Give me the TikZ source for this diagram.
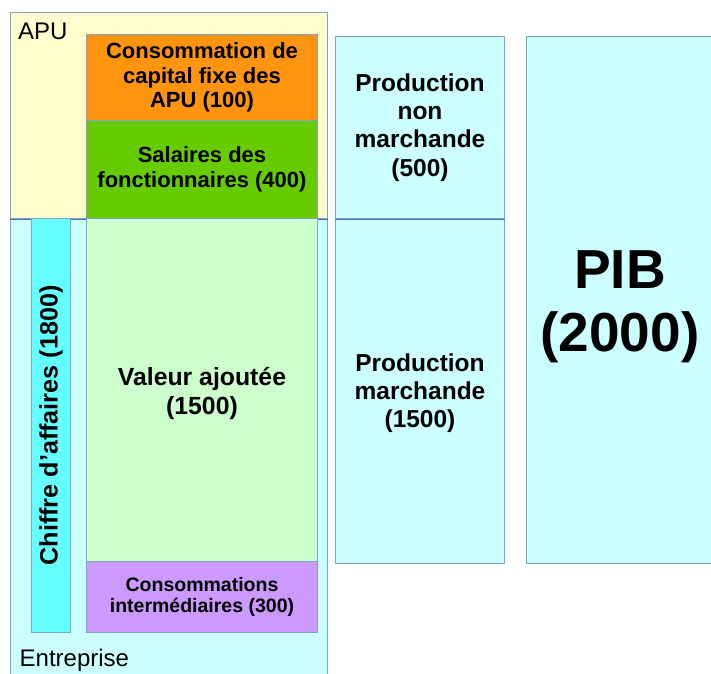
\documentclass[tikz,border=0pt]{standalone}
\usepackage{fontspec}
\setmainfont{Liberation Sans}
\definecolor{apufill}{HTML}{FFFDCD}
\definecolor{entfill}{HTML}{CCFFFF}
\definecolor{orangefill}{HTML}{FF950E}
\definecolor{greenfill}{HTML}{66CC00}
\definecolor{lightgreen}{HTML}{CCFFCC}
\definecolor{purplefill}{HTML}{CC99FF}
\definecolor{cyanfill}{HTML}{66FFFF}
\definecolor{edge}{HTML}{7FA3CC}
\definecolor{darkedge}{HTML}{4A72B0}
\tikzset{
  box/.style={draw=edge, line width=1pt, inner sep=0pt, anchor=north west, align=center},
  bodytext/.style={font=\fontsize{22}{24.5}\selectfont\bfseries},
  bigtext/.style={font=\fontsize{24.5}{28.3}\selectfont\bfseries},
  tag/.style={font=\fontsize{24}{28}\selectfont, inner sep=0pt, anchor=west}
}
\begin{document}
\begin{tikzpicture}[x=1pt,y=-1pt]
\useasboundingbox (0,0) rectangle (711,673);

% sector frames
\node[box, fill=apufill, minimum width=317pt, minimum height=206pt] (apu) at (10,12) {};
\node[box, fill=entfill, minimum width=317pt, minimum height=480pt] (ent) at (10,218) {};
\draw[darkedge, line width=1pt] (apu.south west) -- (apu.south east);
\node[tag] (apulabel) at (18,31) {APU};
\node[tag] (entlabel) at (19.5,660) {Entreprise};

% public administration accounts
\node[box, fill=orangefill, minimum width=231pt, minimum height=86pt, bodytext] (cfc) at (86,34)
  {Consommation de\\capital fixe des\\APU (100)};
\node[box, fill=greenfill, minimum width=231pt, minimum height=98pt, bodytext] (sal) at (86,120)
  {Salaires des\\fonctionnaires (400)};

% business accounts
\node[box, fill=cyanfill, minimum width=39pt, minimum height=414pt] (ca) at (31,218) {};
\node[rotate=90, font=\fontsize{25.2}{28}\selectfont\bfseries] (catext) at (ca.center) {Chiffre d'affaires (1800)};
\node[box, fill=lightgreen, minimum width=231pt, minimum height=343pt] (va) at (86,218) {};
\node[font=\fontsize{24.8}{29}\selectfont\bfseries, align=center] (vatext) at ([yshift=-3pt]va.center)
  {Valeur ajoutée\\(1500)};
\node[box, fill=purplefill, minimum width=231pt, minimum height=71pt, font=\fontsize{19.5}{21.5}\selectfont\bfseries] (ci) at (86,561)
  {Consommations\\intermédiaires (300)};

% production and GDP
\node[box, fill=entfill, minimum width=169pt, minimum height=182pt, bigtext] (pnm) at (335,36)
  {Production\\non\\marchande\\(500)};
\node[box, fill=entfill, minimum width=169pt, minimum height=345pt] (pm) at (335,218) {};
\node[bigtext, align=center] (pmtext) at ([yshift=-2pt]pm.center)
  {Production\\marchande\\(1500)};
\draw[darkedge, line width=1pt] (pnm.south west) -- (pnm.south east);
\node[box, fill=entfill, minimum width=200pt, minimum height=527pt] (pib) at (526,36) {};
\node[font=\fontsize{55}{63}\selectfont\bfseries, align=center] (pibtext) at (620,307) {PIB\\(2000)};
\end{tikzpicture}
\end{document}
